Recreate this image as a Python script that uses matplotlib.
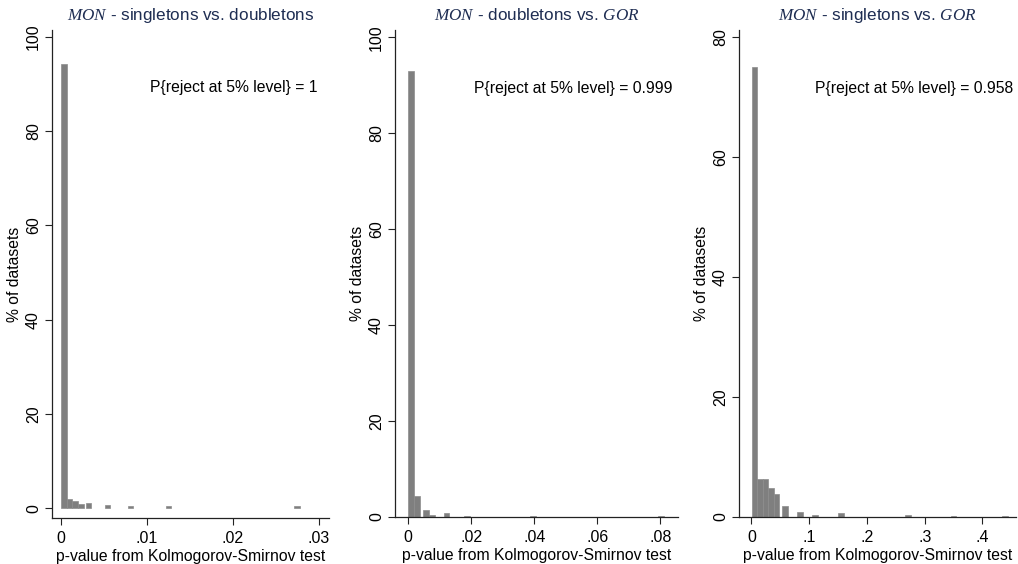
import numpy as np
import matplotlib
matplotlib.use("Agg")
import matplotlib.pyplot as plt

plt.rcParams["font.family"] = ["Liberation Sans", "DejaVu Sans"]
plt.rcParams["mathtext.fontset"] = "custom"
plt.rcParams["mathtext.it"] = "Liberation Serif:italic"
plt.rcParams["mathtext.rm"] = "Liberation Sans"

# ── Data ──────────────────────────────────────────────────────────────────────
titles = [
    r"$\mathit{MON}$ - singletons vs. doubletons",
    r"$\mathit{MON}$ - doubletons vs. $\mathit{GOR}$",
    r"$\mathit{MON}$ - singletons vs. $\mathit{GOR}$",
]
reject_labels = [
    "P{reject at 5% level} = 1",
    "P{reject at 5% level} = 0.999",
    "P{reject at 5% level} = 0.958",
]

# panel 1: singletons vs doubletons
p1_centers = [0.00033, 0.0010, 0.0016, 0.0023, 0.0032, 0.0054, 0.0081, 0.0125, 0.0275]
p1_pct     = [94.2,    1.9,    1.6,    0.9,    1.0,    0.6,    0.4,    0.4,    0.4]
p1_width   = 0.00066

# panel 2: doubletons vs GOR
p2_centers = [0.0009, 0.0027, 0.0057, 0.0075, 0.0121, 0.0186, 0.0395, 0.0802]
p2_pct     = [93.0,   4.4,    1.5,    0.5,    0.9,    0.3,    0.2,    0.2]
p2_width   = 0.00178

# panel 3: singletons vs GOR
p3_centers = [0.0050, 0.0145, 0.0240, 0.0335, 0.0430, 0.0580, 0.0840, 0.1100, 0.1550,
              0.2710, 0.3500, 0.4390]
p3_pct     = [75.0,   6.3,    6.3,    4.8,    3.8,    1.9,    0.9,    0.3,    0.6,
              0.3,    0.2,    0.2]
p3_width   = 0.0095

panels = [
    (p1_centers, p1_pct, p1_width),
    (p2_centers, p2_pct, p2_width),
    (p3_centers, p3_pct, p3_width),
]

xticks = [[0, 0.01, 0.02, 0.03],
          [0, 0.02, 0.04, 0.06, 0.08],
          [0, 0.1, 0.2, 0.3, 0.4]]
xticklabels = [["0", ".01", ".02", ".03"],
               ["0", ".02", ".04", ".06", ".08"],
               ["0", ".1", ".2", ".3", ".4"]]
yticks = [[0, 20, 40, 60, 80, 100],
          [0, 20, 40, 60, 80, 100],
          [0, 20, 40, 60, 80]]

# ── Layout ────────────────────────────────────────────────────────────────────
W, H = 1018, 564
# axes boxes in pixels: left, right, top, bottom
boxes = [(52, 329, 30, 518), (395, 678, 30, 517), (739, 1016, 30, 517)]
xlims = [(-0.00105, 0.0312), (-0.0042, 0.0856), (-0.0215, 0.458)]
ylims = [(-2.1, 101.5), (0, 101.5), (0, 81.2)]
text_pos = [(0.0299, 89.2), (0.0840, 89.4), (0.4525, 71.5)]

bar_color = "#7f7f7f"
title_color = "#1e2d52"

fig = plt.figure(figsize=(W / 100, H / 100), dpi=100)

for i, (centers, pct, width) in enumerate(panels):
    l, r, t, b = boxes[i]
    ax = fig.add_axes([l / W, 1 - b / H, (r - l) / W, (b - t) / H])
    ax.bar(centers, pct, width=width, color=bar_color,
           edgecolor="#8c8c8c", linewidth=0.5)

    ax.set_xlim(*xlims[i])
    ax.set_ylim(*ylims[i])
    ax.set_xticks(xticks[i])
    ax.set_xticklabels(xticklabels[i], fontsize=11.5)
    ax.set_yticks(yticks[i])
    ax.set_yticklabels([str(v) for v in yticks[i]], fontsize=11.5,
                       rotation=90, va="center")

    ax.spines["top"].set_visible(False)
    ax.spines["right"].set_visible(False)
    for s in ("left", "bottom"):
        ax.spines[s].set_color("#222222")
        ax.spines[s].set_linewidth(0.9)
    ax.tick_params(direction="out", length=5, width=0.8, color="#222222",
                   labelcolor="black")
    ax.tick_params(axis="y", pad=3)
    ax.tick_params(axis="x", pad=4.5)

    ax.set_xlabel("p-value from Kolmogorov-Smirnov test", fontsize=11.3, labelpad=2)
    ax.set_ylabel("% of datasets", fontsize=11.3, labelpad=3)
    ax.set_title(titles[i], fontsize=12.3, color=title_color, pad=7)

    tx, ty = text_pos[i]
    ax.text(tx, ty, reject_labels[i], ha="right", va="center", fontsize=11.3)

plt.savefig("out.png", dpi=100)
